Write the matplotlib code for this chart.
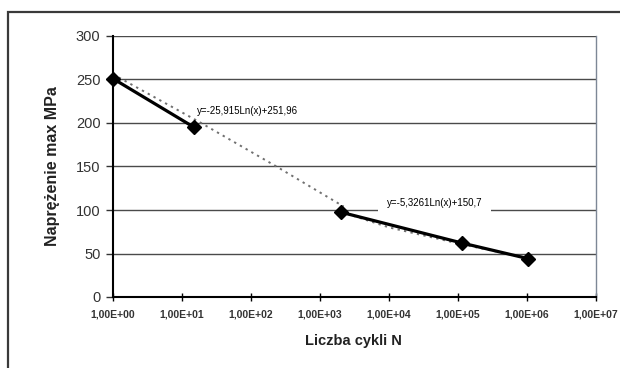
import numpy as np
import matplotlib
matplotlib.use("Agg")
import matplotlib.pyplot as plt
from matplotlib.patches import Rectangle
from matplotlib.ticker import FixedLocator, NullLocator

plt.rcParams['font.family'] = ['Liberation Sans', 'DejaVu Sans']

# Data
series_a_x = [1.0, 15.0]
series_a_y = [251.0, 195.0]
series_b_x = [2000.0, 1.15e5, 1.05e6]
series_b_y = [97.5, 62.0, 44.0]

# dotted trend lines as seen in the picture
trend_a_x = [1.0, 18.0, 234.0, 2200.0]
trend_a_y = [256.0, 201.0, 150.0, 104.0]
trend_b_x = [2000.0, 1.0e4, 1.15e5, 1.05e6]
trend_b_y = [98.0, 80.0, 60.5, 44.5]

x_ticks = [1e0, 1e1, 1e2, 1e3, 1e4, 1e5, 1e6, 1e7]
x_tick_labels = ["1,00E+00", "1,00E+01", "1,00E+02", "1,00E+03",
                 "1,00E+04", "1,00E+05", "1,00E+06", "1,00E+07"]
y_ticks = [0, 50, 100, 150, 200, 250, 300]

eq_a = "y=-25,915Ln(x)+251,96"
eq_b = "y=-5,3261Ln(x)+150,7"
x_label = "Liczba cykli N"
y_label = "Naprężenie max MPa"

fig = plt.figure(figsize=(6.2, 3.68), dpi=100)
fig.patch.set_facecolor('white')

# outer frame (cropped on right/bottom)
fig.patches.append(Rectangle((8 / 620, -0.1), 1.2, 1 - 12 / 368 + 0.1,
                             transform=fig.transFigure, fill=False,
                             ec='#3a3a3a', lw=1.6, zorder=0))

ax = fig.add_axes([113 / 620, 71 / 368, 483 / 620, 261 / 368])
ax.set_xscale('log')
ax.set_xlim(1, 1e7)
ax.set_ylim(0, 300)

# horizontal gridlines
ax.yaxis.grid(True, color='#4a4a4a', lw=1.0)
ax.xaxis.grid(False)
ax.set_axisbelow(True)

dot = dict(ls=(0, (1.2, 2.2)), color='#707070', lw=1.4, zorder=3)
ax.plot(trend_a_x, trend_a_y, **dot)
ax.plot(trend_b_x, trend_b_y, **dot)

ax.plot(series_a_x, series_a_y, color='black', lw=2.3, marker='D', ms=7,
        mfc='black', mec='black', zorder=4, clip_on=False)
ax.plot(series_b_x, series_b_y, color='black', lw=2.3, marker='D', ms=7,
        mfc='black', mec='black', zorder=4, clip_on=False)

ax.text(16.5, 214, eq_a, fontsize=7, va='center', ha='left', zorder=3)
ax.text(9.3e3, 108, eq_b, fontsize=7, va='center', ha='left', zorder=3,
        bbox=dict(fc='white', ec='none', boxstyle='square,pad=0.9'))

ax.xaxis.set_major_locator(FixedLocator(x_ticks))
ax.xaxis.set_minor_locator(NullLocator())
ax.set_xticklabels(x_tick_labels, fontsize=7.5, fontweight='bold', color='#333333')
ax.set_yticks(y_ticks)
ax.tick_params(axis='y', labelsize=10.5, direction='out', length=5, width=1, pad=4, colors='#333333')
ax.tick_params(axis='x', direction='inout', length=6, width=1, pad=6)

ax.spines['top'].set_visible(False)
ax.spines['right'].set_color('#7d8796')
ax.spines['right'].set_linewidth(1.0)
ax.spines['left'].set_linewidth(1.5)
ax.spines['bottom'].set_linewidth(1.5)

fig.text(353 / 620, 1 - 341 / 368, x_label, fontsize=10.5, fontweight='bold',
         ha='center', va='center', color='#222222')
fig.text(53 / 620, 1 - 166 / 368, y_label, fontsize=11.5, fontweight='bold',
         ha='center', va='center', rotation=90, color='#222222')

fig.savefig('out.png', dpi=100, facecolor='white')
